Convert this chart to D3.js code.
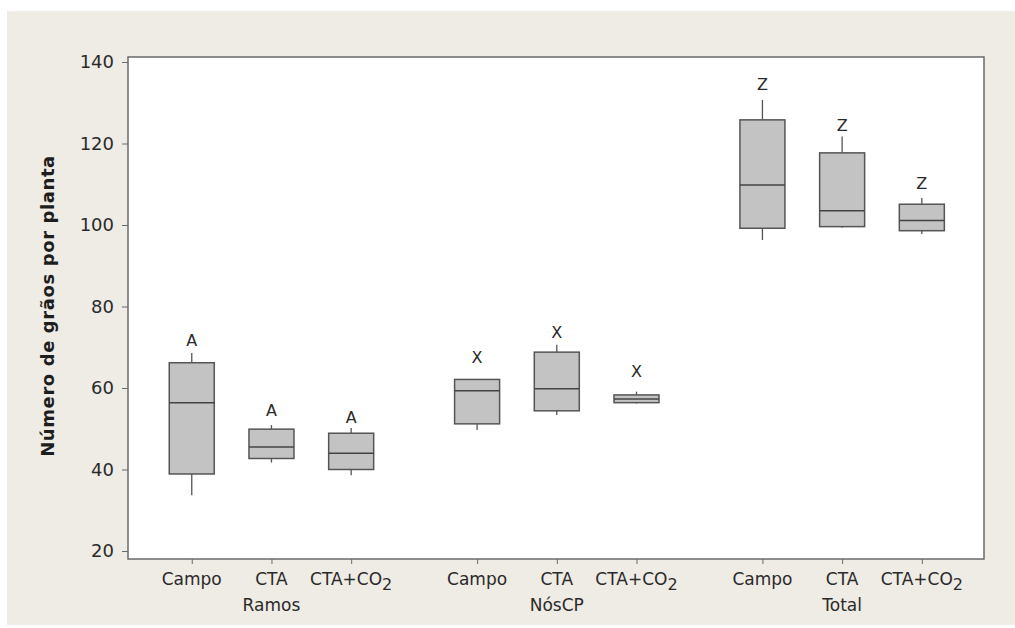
<!DOCTYPE html>
<html>
<head>
<meta charset="utf-8">
<script src="https://cdn.jsdelivr.net/npm/d3@7"></script>
<style>
  html, body { margin: 0; padding: 0; background: #ffffff; }
  svg { display: block; font-family: "DejaVu Sans", sans-serif; }
</style>
</head>
<body>
<div id="chart"></div>
<script>
// groups and categories
const groups = ['Ramos', 'NósCP', 'Total'];
const categories = ['Campo', 'CTA', 'CTA+CO2'];

// box statistics, one value per box (Ramos x3, NósCP x3, Total x3)
const whiskerLow  = [33.7, 41.7, 38.6,  49.7, 53.4, 56.2,  96.3, 99.3, 97.8];
const q1          = [38.9, 42.7, 40.0,  51.2, 54.4, 56.4,  99.2, 99.6, 98.6];
const median      = [56.4, 45.5, 44.0,  59.3, 59.8, 57.3, 109.8, 103.5, 101.1];
const q3          = [66.2, 49.9, 48.9,  62.1, 68.8, 58.3, 125.8, 117.7, 105.1];
const whiskerHigh = [68.6, 50.9, 50.2,  62.1, 70.6, 59.1, 130.7, 121.7, 106.6];

// letters over each box and where they sit (y value)
const letters  = ['A', 'A', 'A', 'X', 'X', 'X', 'Z', 'Z', 'Z'];
const letterY  = [71.8, 54.6, 52.9, 67.6, 73.7, 64.0, 134.4, 124.5, 110.2];

const yTicks = [20, 40, 60, 80, 100, 120, 140];

const width = 1015, height = 628;
const frame = { left: 128, right: 984, top: 57, bottom: 559 };
const groupGap = 3.58;

let svg = d3.select('#chart').append('svg')
  .attr('width', width)
  .attr('height', height);

// beige panel
svg.append('rect')
  .attr('x', 7).attr('y', 11)
  .attr('width', width - 7).attr('height', height - 14)
  .attr('fill', '#efebe5');

let xScale = d3.scaleLinear()
  .domain([-0.8, 2 * groupGap + 2.78])
  .range([frame.left, frame.right]);
let yScale = d3.scaleLinear()
  .domain([20, 140])
  .range([551, 62]);

// plot area
svg.append('rect')
  .attr('x', frame.left).attr('y', frame.top)
  .attr('width', frame.right - frame.left)
  .attr('height', frame.bottom - frame.top)
  .attr('fill', '#ffffff')
  .attr('stroke', '#6b6b6b')
  .attr('stroke-width', 1.5);

// build rows
let rows = [];
groups.forEach((g, gi) => {
  categories.forEach((c, ci) => {
    let i = gi * 3 + ci;
    rows.push({
      group: g, cat: c, pos: gi * groupGap + ci,
      lo: whiskerLow[i], q1: q1[i], med: median[i], q3: q3[i], hi: whiskerHigh[i],
      letter: letters[i], ly: letterY[i]
    });
  });
});

// y axis
let yAxis = d3.axisLeft(yScale).tickValues(yTicks).tickSize(6).tickPadding(8);
let gY = svg.append('g')
  .attr('transform', `translate(${frame.left},0)`)
  .call(yAxis);
gY.select('.domain').remove();
gY.selectAll('line').attr('stroke', '#6b6b6b');
gY.selectAll('text')
  .attr('fill', '#2a2a2a')
  .style('font-size', '18px')
  .style('font-family', '"DejaVu Sans", sans-serif');

// x axis ticks
let xAxis = d3.axisBottom(xScale).tickValues(rows.map(d => d.pos)).tickSize(5).tickFormat('');
let gX = svg.append('g')
  .attr('transform', `translate(0,${frame.bottom})`)
  .call(xAxis);
gX.select('.domain').remove();
gX.selectAll('line').attr('stroke', '#6b6b6b');

// category labels with subscript
let catText = svg.append('g').selectAll('text')
  .data(rows)
  .join('text')
  .attr('x', d => xScale(d.pos))
  .attr('y', 585)
  .attr('text-anchor', 'middle')
  .attr('fill', '#2a2a2a')
  .style('font-size', '17px');
catText.each(function (d) {
  let t = d3.select(this);
  if (d.cat === 'CTA+CO2') {
    t.append('tspan').text('CTA+CO');
    t.append('tspan').attr('dy', 5).style('font-size', '16px').text('2');
  } else {
    t.text(d.cat);
  }
});

// group labels
svg.append('g').selectAll('text')
  .data(groups)
  .join('text')
  .attr('x', (d, i) => xScale(i * groupGap + 1))
  .attr('y', 611)
  .attr('text-anchor', 'middle')
  .attr('fill', '#2a2a2a')
  .style('font-size', '17px')
  .text(d => d);

// y title
svg.append('text')
  .attr('transform', `translate(54,306) rotate(-90)`)
  .attr('text-anchor', 'middle')
  .attr('fill', '#1e1e1e')
  .style('font-size', '18px')
  .style('letter-spacing', '0.6px')
  .style('font-weight', 'bold')
  .text('Número de grãos por planta');

// boxes
const boxW = 45;
let boxes = svg.append('g').selectAll('g')
  .data(rows)
  .join('g');

boxes.append('line')
  .attr('x1', d => xScale(d.pos)).attr('x2', d => xScale(d.pos))
  .attr('y1', d => yScale(d.hi)).attr('y2', d => yScale(d.q3))
  .attr('stroke', '#555').attr('stroke-width', 1.3);
boxes.append('line')
  .attr('x1', d => xScale(d.pos)).attr('x2', d => xScale(d.pos))
  .attr('y1', d => yScale(d.q1)).attr('y2', d => yScale(d.lo))
  .attr('stroke', '#555').attr('stroke-width', 1.3);
boxes.append('rect')
  .attr('x', d => xScale(d.pos) - boxW / 2)
  .attr('y', d => yScale(d.q3))
  .attr('width', boxW)
  .attr('height', d => yScale(d.q1) - yScale(d.q3))
  .attr('fill', '#c3c3c3')
  .attr('stroke', '#555')
  .attr('stroke-width', 1.5);
boxes.append('line')
  .attr('x1', d => xScale(d.pos) - boxW / 2).attr('x2', d => xScale(d.pos) + boxW / 2)
  .attr('y1', d => yScale(d.med)).attr('y2', d => yScale(d.med))
  .attr('stroke', '#444').attr('stroke-width', 1.5);

// letters
boxes.append('text')
  .attr('x', d => xScale(d.pos))
  .attr('y', d => yScale(d.ly))
  .attr('dy', '0.35em')
  .attr('text-anchor', 'middle')
  .attr('fill', '#2a2a2a')
  .style('font-size', '16px')
  .text(d => d.letter);
</script>
</body>
</html>
